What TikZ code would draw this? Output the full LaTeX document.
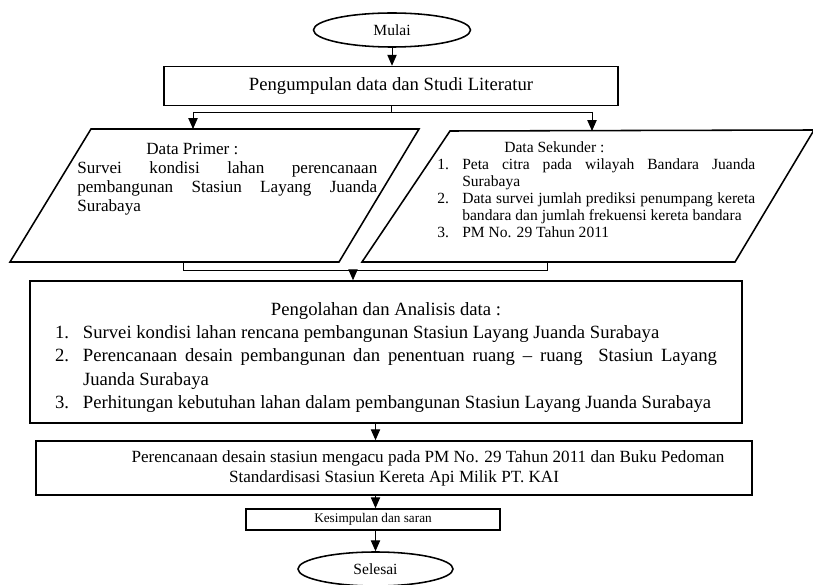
\documentclass[tikz,border=0pt]{standalone}
\usepackage{fontspec}
\setmainfont{Liberation Serif}
\usetikzlibrary{arrows.meta,shapes.geometric}
\newlength{\px}
\setlength{\px}{0.643pt}
\tolerance=9999
\hyphenpenalty=10000
\exhyphenpenalty=10000
\newcommand{\nomor}[2]{\par\hangindent=#2\hangafter=1\noindent\hbox to #2{#1.\hfil}}

\begin{document}
\begin{tikzpicture}[
      x=0.643pt, y=-0.643pt,
      proses/.style={draw,line width=1pt,rectangle,inner sep=0pt},
      terminal/.style={draw,line width=1pt,ellipse,inner sep=0pt,minimum width=157\px,minimum height=34\px,font=\fontsize{10}{12}\selectfont},
      data/.style={line width=1pt,line join=miter},
      teks/.style={inner sep=0pt,anchor=base west,align=justify},
      garis/.style={line width=0.6pt},
      alur/.style={line width=0.6pt,-{Triangle[length=7pt,width=6pt]}}
    ]
    \useasboundingbox (0,0) rectangle (813,585);
    % Mulai dan pengumpulan data.
    \node[terminal] (mulai) at (392,30) {Mulai};
    \node[proses,minimum width=454\px,minimum height=39\px,font=\fontsize{12}{14.8}\selectfont] (kumpul) at (391,86) {Pengumpulan data dan Studi Literatur};
    % Data primer dan data sekunder.
    \draw[data] (10,262) -- (91,129) -- (419,129) -- (339,262) -- cycle;
    \draw[data] (362,262) -- (450,131) -- (814,130) -- (735,262) -- cycle;
    \node[teks,text width=300\px,font=\fontsize{11}{12.2}\selectfont] (primer) at (77,155)
      {\hspace*{69\px}Data Primer :\par Survei kondisi lahan perencanaan pembangunan Stasiun Layang Juanda Surabaya};
    \node[teks,text width=318\px,font=\fontsize{10}{10.93}\selectfont] (sekunder) at (437,153)
      {\hspace*{67\px}Data Sekunder :%
       \nomor{1}{25\px}Peta citra pada wilayah Bandara Juanda Surabaya%
       \nomor{2}{25\px}Data survei jumlah prediksi penumpang kereta bandara dan jumlah frekuensi kereta bandara%
       \nomor{3}{25\px}PM No. 29 Tahun 2011};
    \coordinate (primerAtas) at (193,129);
    \coordinate (sekunderAtas) at (592,131);
    \coordinate (primerBawah) at (183,262);
    \coordinate (sekunderBawah) at (547,262);
    % Pengolahan sampai selesai.
    \node[proses,minimum width=712\px,minimum height=142\px,text width=662\px,align=justify,font=\fontsize{12}{14.8}\selectfont] (olah) at (386,352)
      {{\centering\rule{0pt}{24\px}Pengolahan dan Analisis data :\par}%
       \nomor{1}{28\px}Survei kondisi lahan rencana pembangunan Stasiun Layang Juanda Surabaya%
       \nomor{2}{28\px}Perencanaan desain pembangunan dan penentuan ruang -- ruang\ \ Stasiun Layang Juanda Surabaya%
       \nomor{3}{28\px}Perhitungan kebutuhan lahan dalam pembangunan Stasiun Layang Juanda Surabaya};
    \node[proses,minimum width=716\px,minimum height=54\px,align=center,font=\fontsize{11}{12.9}\selectfont] (rencana) at (394,468)
      {\hspace*{68\px}Perencanaan desain stasiun mengacu pada PM No. 29 Tahun 2011 dan Buku Pedoman\\Standardisasi Stasiun Kereta Api Milik PT. KAI};
    \node[proses,minimum width=254\px,minimum height=21\px,font=\fontsize{8.5}{10}\selectfont] (simpul) at (373,519.5) {Kesimpulan dan saran};
    \node[terminal,minimum width=155\px] (selesai) at (375.5,569) {Selesai};
    % Draw the connectors.
    \draw[alur] (mulai.south) -- (mulai.south |- kumpul.north);
    \draw[garis] (kumpul.south) -- (kumpul.south |- 0,112) coordinate (cabang);
    \draw[garis] (primerAtas |- cabang) -- (sekunderAtas |- cabang);
    \draw[alur] (primerAtas |- cabang) -- (primerAtas);
    \draw[alur] (sekunderAtas |- cabang) -- (sekunderAtas);
    \draw[garis] (primerBawah) -- ++(0,8) coordinate (gabung) -| (sekunderBawah);
    \draw[alur] (gabung -| 353,0) -- (olah.north -| 353,0);
    \draw[alur] (olah.south -| selesai) -- (rencana.north -| selesai);
    \draw[alur] (rencana.south -| selesai) -- (simpul.north -| selesai);
    \draw[alur] (simpul.south -| selesai) -- (selesai.north);
\end{tikzpicture}
\end{document}
